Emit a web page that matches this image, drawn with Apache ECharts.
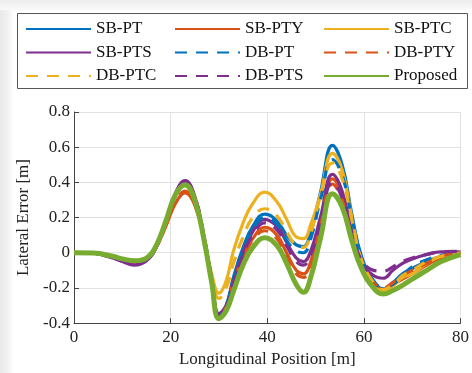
<!DOCTYPE html>
<html>
<head>
<meta charset="utf-8">
<script src="https://cdn.jsdelivr.net/npm/echarts@6/dist/echarts.min.js"></script>
<style>
  html, body { margin: 0; padding: 0; background: #ffffff; }
  #chart { width: 472px; height: 373px; }
</style>
</head>
<body>
<div id="chart"></div>
<script>
// Longitudinal positions (m) at which the lateral errors are sampled
const xs = [0, 4, 8, 10, 12.5, 15, 17, 19, 21, 23, 25, 27, 28.5, 30, 31.5, 33, 35, 37, 39.5, 42, 44, 46, 47.5, 49, 51, 53.5, 55.5, 57.5, 59.5, 62, 64, 66, 68, 70, 73, 76, 80];

// Lateral error (m) per controller
const sbPT  = [0, -0.002, -0.025, -0.04, -0.055, -0.035, 0.035, 0.18, 0.33, 0.395, 0.31, 0.07, -0.16, -0.36, -0.30, -0.14, 0.03, 0.15, 0.22, 0.18, 0.10, 0.045, 0.035, 0.12, 0.34, 0.61, 0.50, 0.22, -0.02, -0.16, -0.205, -0.17, -0.12, -0.09, -0.05, -0.02, -0.002];
const sbPTY = [0, -0.002, -0.025, -0.04, -0.055, -0.035, 0.03, 0.15, 0.28, 0.34, 0.27, 0.06, -0.16, -0.36, -0.31, -0.17, -0.02, 0.08, 0.145, 0.10, 0.0, -0.10, -0.12, -0.05, 0.17, 0.42, 0.33, 0.10, -0.07, -0.18, -0.21, -0.18, -0.15, -0.12, -0.07, -0.03, -0.005];
const sbPTC = [0, -0.002, -0.02, -0.035, -0.05, -0.03, 0.04, 0.18, 0.33, 0.39, 0.30, 0.06, -0.12, -0.23, -0.16, 0.01, 0.17, 0.28, 0.345, 0.29, 0.19, 0.09, 0.08, 0.16, 0.33, 0.565, 0.47, 0.20, -0.05, -0.18, -0.22, -0.19, -0.14, -0.12, -0.06, -0.02, -0.002];
const sbPTS = [0, -0.003, -0.03, -0.05, -0.07, -0.045, 0.03, 0.18, 0.34, 0.41, 0.32, 0.08, -0.15, -0.345, -0.30, -0.16, 0.0, 0.12, 0.19, 0.15, 0.06, -0.03, -0.05, 0.01, 0.20, 0.445, 0.35, 0.12, -0.05, -0.13, -0.145, -0.10, -0.06, -0.035, -0.01, 0.005, 0.005];
const dbPT  = [0, -0.002, -0.025, -0.04, -0.055, -0.035, 0.035, 0.18, 0.33, 0.395, 0.31, 0.07, -0.16, -0.36, -0.30, -0.15, 0.02, 0.13, 0.20, 0.16, 0.07, 0.01, 0.0, 0.08, 0.30, 0.53, 0.44, 0.20, -0.03, -0.16, -0.20, -0.18, -0.13, -0.08, -0.04, -0.015, 0];
const dbPTY = [0, -0.002, -0.025, -0.04, -0.055, -0.035, 0.03, 0.155, 0.285, 0.35, 0.28, 0.06, -0.16, -0.36, -0.31, -0.17, -0.03, 0.07, 0.125, 0.08, -0.02, -0.12, -0.14, -0.07, 0.15, 0.39, 0.30, 0.09, -0.07, -0.17, -0.20, -0.17, -0.13, -0.10, -0.06, -0.02, 0];
const dbPTC = [0, -0.002, -0.02, -0.035, -0.05, -0.03, 0.04, 0.18, 0.33, 0.39, 0.30, 0.06, -0.14, -0.26, -0.20, -0.06, 0.09, 0.20, 0.25, 0.21, 0.12, 0.04, 0.03, 0.11, 0.32, 0.51, 0.42, 0.19, -0.04, -0.17, -0.21, -0.18, -0.13, -0.10, -0.05, -0.02, 0];
const dbPTS = [0, -0.003, -0.03, -0.048, -0.065, -0.042, 0.03, 0.18, 0.335, 0.405, 0.32, 0.08, -0.15, -0.35, -0.31, -0.17, -0.01, 0.10, 0.17, 0.13, 0.04, -0.05, -0.07, -0.01, 0.17, 0.40, 0.31, 0.10, -0.04, -0.10, -0.105, -0.08, -0.05, -0.03, -0.01, 0.005, 0.008];
const proposed = [0, -0.002, -0.02, -0.035, -0.045, -0.03, 0.04, 0.18, 0.33, 0.385, 0.30, 0.06, -0.17, -0.375, -0.33, -0.22, -0.07, 0.03, 0.085, 0.04, -0.06, -0.18, -0.225, -0.14, 0.08, 0.335, 0.26, 0.07, -0.09, -0.20, -0.235, -0.215, -0.185, -0.15, -0.10, -0.05, -0.01];

// Axis ticks
const xTicks = [0, 20, 40, 60, 80];
const yTicks = [-0.4, -0.2, 0, 0.2, 0.4, 0.6, 0.8];

const BLUE = '#0072BD', ORANGE = '#D95319', YELLOW = '#EDB120', PURPLE = '#7E2F8E', GREEN = '#77AC30';
const DASH = [12, 9];
const FONT = 'Liberation Serif';

function mk(name, vals, color, dashed, width) {
  return {
    name: name,
    type: 'line',
    data: xs.map((x, i) => [x, vals[i]]),
    smooth: 0.45,
    symbol: 'none',
    lineStyle: { color: color, width: width || 3.2, type: dashed ? DASH : 'solid' },
    itemStyle: { color: color },
    emphasis: { disabled: true },
    animation: false
  };
}

const series = [
  mk('SB-PT', sbPT, BLUE, false),
  mk('SB-PTY', sbPTY, ORANGE, false),
  mk('SB-PTC', sbPTC, YELLOW, false),
  mk('SB-PTS', sbPTS, PURPLE, false),
  mk('DB-PT', dbPT, BLUE, true),
  mk('DB-PTY', dbPTY, ORANGE, true),
  mk('DB-PTC', dbPTC, YELLOW, true),
  mk('DB-PTS', dbPTS, PURPLE, true),
  mk('Proposed', proposed, GREEN, false, 5)
];

function legendCol(names, left) {
  return {
    data: names,
    left: left,
    top: 20.5,
    orient: 'vertical',
    itemWidth: 65,
    itemHeight: 14,
    itemGap: 6.5,
    padding: 0,
    selectedMode: false,
    itemStyle: { opacity: 0, borderWidth: 0 },
    textStyle: { fontFamily: FONT, fontSize: 17, color: '#111' }
  };
}

const axisText = { fontFamily: FONT, fontSize: 17, color: '#222' };

const chart = echarts.init(document.getElementById('chart'), null, { renderer: 'canvas' });
chart.setOption({
  animation: false,
  backgroundColor: '#ffffff',
  textStyle: { fontFamily: FONT },
  graphic: [
    { type: 'rect', left: 0, top: 0, shape: { width: 14, height: 373 }, silent: true, z: -10,
      style: { fill: new echarts.graphic.LinearGradient(0, 0, 1, 0, [{ offset: 0, color: '#e9e9e9' }, { offset: 0.6, color: '#f3f3f3' }, { offset: 1, color: '#ffffff' }]) } },
    { type: 'rect', left: 0, top: 0, shape: { width: 472, height: 10 }, silent: true, z: -10,
      style: { fill: new echarts.graphic.LinearGradient(0, 0, 0, 1, [{ offset: 0, color: '#ececec' }, { offset: 1, color: '#fafafa' }]) } },
    { type: 'rect', left: 17, top: 13, shape: { width: 450, height: 75 }, silent: true, z: 5,
      style: { fill: 'transparent', stroke: '#555', lineWidth: 1 } }
  ],
  legend: [
    legendCol(['SB-PT', 'SB-PTS', 'DB-PTC'], 25),
    legendCol(['SB-PTY', 'DB-PT', 'DB-PTS'], 174),
    legendCol(['SB-PTC', 'DB-PTY', 'Proposed'], 323)
  ],
  grid: { left: 74, right: 7, top: 112, bottom: 48 },
  xAxis: {
    type: 'value',
    min: xTicks[0],
    max: xTicks[xTicks.length - 1],
    interval: 20,
    name: 'Longitudinal Position [m]',
    nameLocation: 'middle',
    nameGap: 27,
    nameTextStyle: axisText,
    axisLine: { onZero: false, lineStyle: { color: '#444', width: 1 } },
    axisTick: { inside: true, length: 5, lineStyle: { color: '#444' } },
    axisLabel: Object.assign({ margin: 6 }, axisText),
    splitLine: { show: true, lineStyle: { color: '#e2e2e2', width: 1 } }
  },
  yAxis: {
    type: 'value',
    min: yTicks[0],
    max: yTicks[yTicks.length - 1],
    interval: 0.2,
    name: 'Lateral Error [m]',
    nameLocation: 'middle',
    nameGap: 34,
    nameTextStyle: axisText,
    axisLine: { show: true, onZero: false, lineStyle: { color: '#444', width: 1 } },
    axisTick: { show: true, inside: true, length: 5, lineStyle: { color: '#444' } },
    axisLabel: Object.assign({ margin: 4, formatter: v => String(Math.round(v * 10) / 10) }, axisText),
    splitLine: { show: true, lineStyle: { color: '#e2e2e2', width: 1 } }
  },
  series: series
});
</script>
</body>
</html>
